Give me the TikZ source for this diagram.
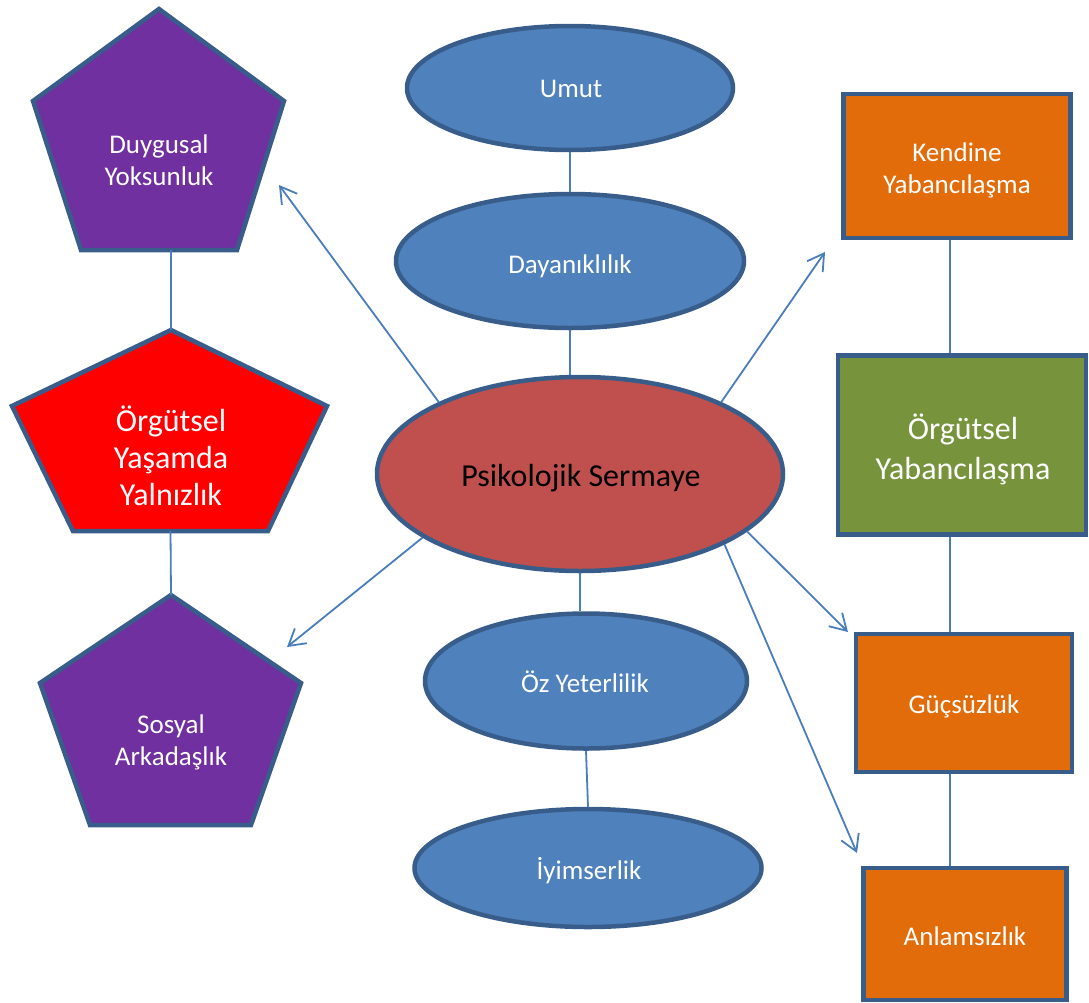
\documentclass[tikz,border=0pt]{standalone}
\usepackage{fontspec}
\setmainfont{Carlito}
\usepackage{tikz}
\usetikzlibrary{arrows.meta, calc, positioning, shapes.geometric}
\usepackage{xcolor}

\definecolor{kenar}{HTML}{385D8A}
\definecolor{mavi}{HTML}{4F81BD}
\definecolor{kiremit}{HTML}{C0504D}
\definecolor{mor}{HTML}{7030A0}
\definecolor{turuncu}{HTML}{E36C0A}
\definecolor{yesil}{HTML}{77933C}
\definecolor{cizgi}{HTML}{4A7EBB}

\begin{document}
\begin{tikzpicture}[x=1pt, y=-1pt,
    kucuk/.style={font=\fontsize{27}{32}\selectfont},
    buyuk/.style={font=\fontsize{32}{38}\selectfont},
    elips/.style={ellipse, draw=kenar, line width=4.5pt, fill=mavi, inner sep=0pt},
    kutu/.style={rectangle, draw=kenar, line width=4.5pt, fill=turuncu, inner sep=0pt},
    besgen/.style={draw=kenar, line width=4.5pt},
    yazi/.style={text=white, align=center, inner sep=0pt},
    baglanti/.style={draw=cizgi, line width=1.8pt},
    ok/.style={baglanti, -{Straight Barb[length=16pt, width=19pt]}}]
    \useasboundingbox (0,0) rectangle (1089,1002);

    % Psikolojik sermaye ve boyutları
    \node[elips, fill=kiremit, minimum width=406pt, minimum height=194pt] (ps) at (580,474) {};
    \node[elips, minimum width=326pt, minimum height=124pt] (umut) at (570,88) {};
    \node[elips, minimum width=348pt, minimum height=134pt] (dayanik) at (570,261) {};
    \node[elips, minimum width=322pt, minimum height=135pt] (oz) at (586,681) {};
    \node[elips, minimum width=347pt, minimum height=118pt] (iyi) at (588,868) {};

    \node[yazi, buyuk, text=black] (ps-y) at (581,478) {Psikolojik Sermaye};
    \node[yazi, kucuk] (umut-y) at (571,89) {Umut};
    \node[yazi, kucuk] (dayanik-y) at (570,266) {Dayanıklılık};
    \node[yazi, kucuk] (oz-y) at (585,682) {Öz Yeterlilik};
    \node[yazi, kucuk] (iyi-y) at (589,871) {İyimserlik};

    \draw[baglanti] (umut) -- (dayanik);
    \draw[baglanti] (dayanik.south) -- (dayanik.south |- ps.north);
    \draw[baglanti] (ps.south) -- (ps.south |- oz.north);
    \draw[baglanti] (oz.south) -- (iyi.north);

    % Örgütsel yaşamda yalnızlık (beşgenler)
    \draw[besgen, fill=mor] (159,9) -- (284,101) -- (237,250) -- coordinate (duy-alt) (81,250) -- (33,101) -- cycle;
    \draw[besgen, fill=red] (171,330) coordinate (yal-ust) -- (327,406) -- (268,531) -- coordinate (yal-alt) (73,531) -- (12,406) -- cycle;
    \draw[besgen, fill=mor] (171,595) coordinate (sos-ust) -- (301,683) -- (251,825) -- (90,825) -- (40,683) -- cycle;

    \node[yazi, kucuk] (duygusal) at (159,160) {Duygusal\\Yoksunluk};
    \node[yazi, buyuk, font=\fontsize{32}{37}\selectfont] (yalnizlik) at (171,456) {Örgütsel\\Yaşamda\\Yalnızlık};
    \node[yazi, kucuk] (sosyal) at (171,742) {Sosyal\\Arkadaşlık};

    \draw[baglanti] (yal-ust) -- (yal-ust |- duy-alt);
    \draw[baglanti] (yal-alt) -- (sos-ust);

    % Örgütsel yabancılaşma (kutular)
    \node[kutu, minimum width=227pt, minimum height=144pt] (kendine) at (957,166) {};
    \node[kutu, fill=yesil, minimum width=248pt, minimum height=179pt] (orgyab) at (962,445) {};
    \node[kutu, minimum width=216pt, minimum height=138pt] (guc) at (964,703) {};
    \node[kutu, minimum width=203pt, minimum height=132pt] (anlam) at (965,934) {};

    \node[yazi, kucuk] (kendine-y) at (957,170) {Kendine\\Yabancılaşma};
    \node[yazi, buyuk, font=\fontsize{32}{40}\selectfont] (orgyab-y) at (963,449) {Örgütsel\\Yabancılaşma};
    \node[yazi, kucuk] (guc-y) at (964,706) {Güçsüzlük};
    \node[yazi, kucuk] (anlam-y) at (965,936) {Anlamsızlık};

    \coordinate (sag) at (950,0);
    \draw[baglanti] (kendine.south -| sag) -- (orgyab.north -| sag);
    \draw[baglanti] (orgyab.south -| sag) -- (guc.north -| sag);
    \draw[baglanti] (guc.south -| sag) -- (anlam.north -| sag);

    % oklar
    \coordinate (duy-ok) at (279,185);
    \coordinate (ken-ok) at (825,252);
    \coordinate (sos-ok) at (287,647);
    \coordinate (guc-ok) at (848,632);
    \coordinate (anl-ok) at (857,853);
    \draw[ok] (ps.153) -- (duy-ok);
    \draw[ok] (ps.27) -- (ken-ok);
    \draw[ok] (ps.202) -- (sos-ok);
    \draw[ok] (ps.341) -- (guc-ok);
    \draw[ok] (ps.334) -- (anl-ok);
\end{tikzpicture}
\end{document}
